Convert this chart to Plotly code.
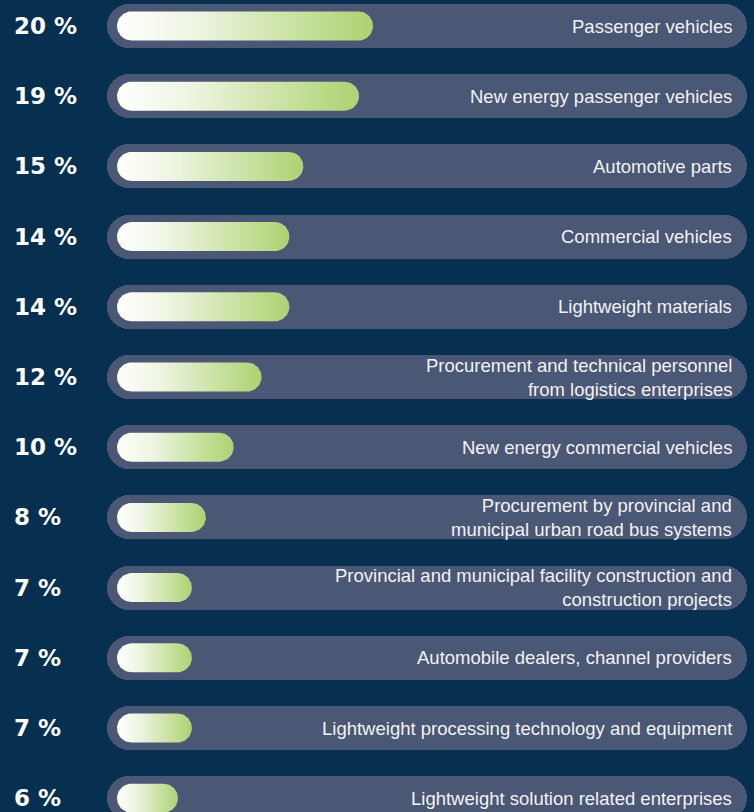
import numpy as np
import plotly.graph_objects as go

# datos (porcentaje por segmento)
categorias = [
    "Passenger vehicles",
    "New energy passenger vehicles",
    "Automotive parts",
    "Commercial vehicles",
    "Lightweight materials",
    "Procurement and technical personnel<br>from logistics enterprises",
    "New energy commercial vehicles",
    "Procurement by provincial and<br>municipal urban road bus systems",
    "Provincial and municipal facility construction and<br>construction projects",
    "Automobile dealers, channel providers",
    "Lightweight processing technology and equipment",
    "Lightweight solution related enterprises",
]
porcentajes = [20, 19, 15, 14, 14, 12, 10, 8, 7, 7, 7, 6]
etiquetas = [f"{v} %" for v in porcentajes]

# geometría (en píxeles -> unidades de eje)
ANCHO, ALTO = 754, 812
PX_X = 13.93          # píxeles por punto porcentual
PX_FILA = 70.2        # píxeles por fila
X_CERO = 94.4         # posición en píxeles del cero
Y_PRIMERA = 26        # centro de la primera fila

FONDO = "#072f50"
PISTA = "#4a5775"
VERDE = "#aed271"

pista_ini = (107 - X_CERO) / PX_X
pista_fin = (747 - X_CERO) / PX_X
barra_ini = (117 - X_CERO) / PX_X
texto_x = (734 - X_CERO) / PX_X
alto_pista = 44 / PX_FILA
radio_px = 14.5
rx = radio_px / PX_X
ry = radio_px / PX_FILA

filas = list(range(len(categorias)))

fig = go.Figure()

# pistas de fondo
fig.add_trace(
    go.Bar(
        y=filas,
        x=[pista_fin - pista_ini] * len(filas),
        base=pista_ini,
        orientation="h",
        width=alto_pista,
        marker=dict(color=PISTA, cornerradius=22, line=dict(width=0)),
        hoverinfo="skip",
        showlegend=False,
    )
)


def pastilla(x0, x1, yc):
    # contorno redondeado (extremos semicirculares en píxeles)
    t_izq = np.linspace(np.pi / 2, 3 * np.pi / 2, 30)
    t_der = np.linspace(-np.pi / 2, np.pi / 2, 30)
    xs = list(x0 + rx + rx * np.cos(t_izq)) + list(x1 - rx + rx * np.cos(t_der))
    ys = list(yc + ry * np.sin(t_izq)) + list(yc + ry * np.sin(t_der))
    xs.append(xs[0])
    ys.append(ys[0])
    return xs, ys


for fila, valor in zip(filas, porcentajes):
    xs, ys = pastilla(barra_ini, valor, fila)
    fig.add_trace(
        go.Scatter(
            x=xs,
            y=ys,
            mode="lines",
            line=dict(width=0),
            fill="toself",
            fillgradient=dict(
                type="horizontal",
                colorscale=[[0, "#ffffff"], [0.3, "#eef5e2"], [1, VERDE]],
            ),
            hoverinfo="skip",
            showlegend=False,
        )
    )

for fila, etiqueta, cat in zip(filas, etiquetas, categorias):
    fig.add_annotation(
        x=12 / ANCHO, xref="paper", y=fila, yref="y",
        text=etiqueta, showarrow=False, xanchor="left", yanchor="middle",
        font=dict(family="DejaVu Sans", size=23, color="white", weight="bold"),
    )
    fig.add_annotation(
        x=texto_x, xref="x", y=fila, yref="y",
        text=cat, showarrow=False, xanchor="right", yanchor="middle", align="right",
        font=dict(family="Liberation Sans, Arial", size=18.5, color="#f2f2f2"),
    )

fig.update_layout(
    width=ANCHO,
    height=ALTO,
    margin=dict(l=0, r=0, t=0, b=0),
    paper_bgcolor=FONDO,
    plot_bgcolor=FONDO,
    xaxis=dict(
        range=[-X_CERO / PX_X, (ANCHO - X_CERO) / PX_X],
        visible=False, fixedrange=True,
    ),
    yaxis=dict(
        range=[(ALTO - Y_PRIMERA) / PX_FILA, -Y_PRIMERA / PX_FILA],
        visible=False, fixedrange=True,
    ),
    hovermode=False,
    bargap=0,
)

fig.write_html(
    "out.html",
    config={"displayModeBar": False},
    post_script="document.body.style.margin='0';document.body.style.background='%s';" % FONDO,
)
